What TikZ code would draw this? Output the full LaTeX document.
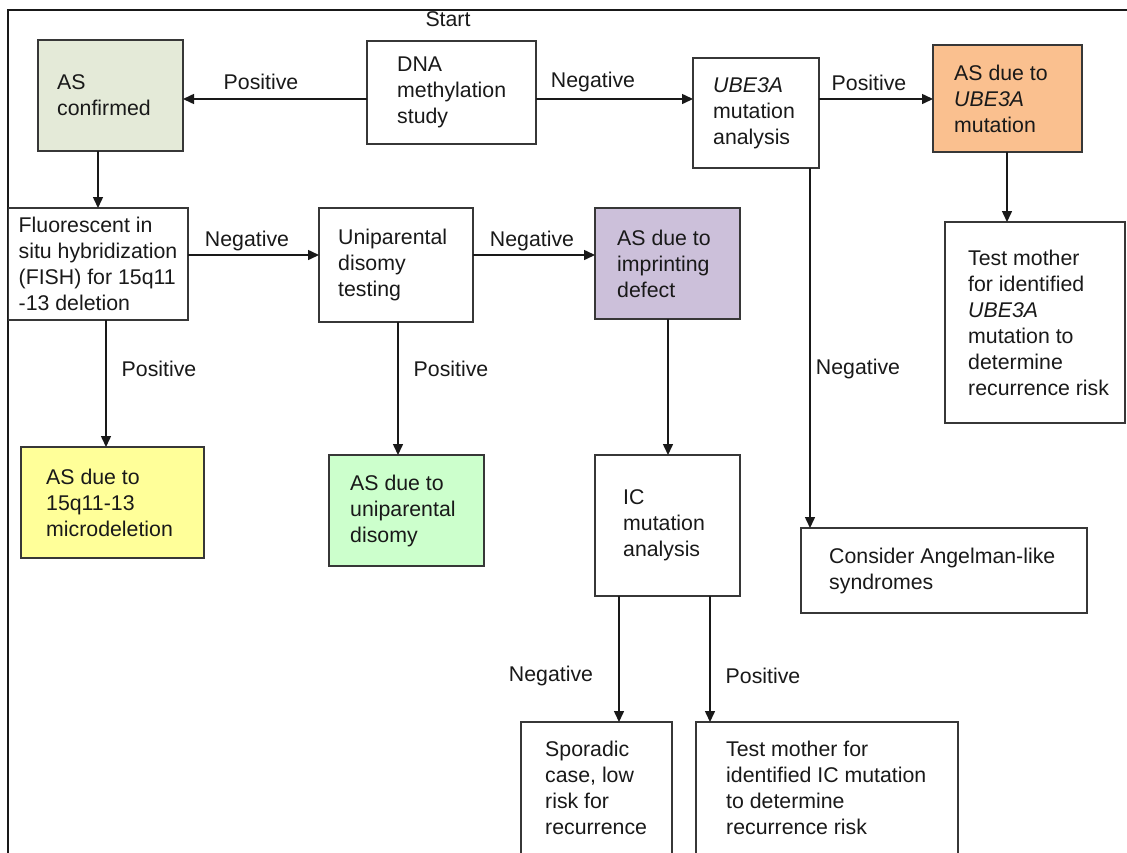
\documentclass[tikz,border=0pt]{standalone}
\usepackage{fontspec}
\setmainfont{Liberation Sans}
\usetikzlibrary{arrows.meta}
\definecolor{cconf}{RGB}{228,234,216}
\definecolor{corng}{RGB}{250,192,143}
\definecolor{cpurp}{RGB}{204,192,218}
\definecolor{cyel}{RGB}{255,255,153}
\definecolor{cgrn}{RGB}{204,255,204}
\definecolor{cline}{RGB}{55,55,55}
\definecolor{ctext}{RGB}{25,25,25}
% name, left, top, right, bottom, text padding, fill, text
\newcommand\flowbox[8]{%
  \node[boxst, fill=#7, minimum width={(#4-#2)*1pt}, minimum height={(#5-#3)*1pt}] (#1) at ({(#2+#4)/2},{(#3+#5)/2}) {};
  \node[txt, anchor=west] (#1t) at ([xshift=#6pt]#1.west) {#8};
}
\begin{document}
\begin{tikzpicture}[x=1pt,y=-1pt,
  boxst/.style={draw=cline, line width=1.5pt, inner sep=0pt, outer sep=0pt},
  txt/.style={inner sep=0pt, align=left, font=\fontsize{21.3}{26}\selectfont, text=ctext},
  lbl/.style={inner sep=0pt, font=\fontsize{21.3}{26}\selectfont, text=ctext},
  arr/.style={draw=ctext, line width=1.5pt, -{Triangle[length=11pt,width=10pt]}},
  frm/.style={draw=ctext, line width=1.5pt}]
\useasboundingbox (0,0) rectangle (1127,852);
\clip (0,0) rectangle (1127,852);
\fill[white] (0,0) rectangle (1127,852);
\draw[frm] (8,860) -- (8,10) -- (1130,10);

\flowbox{conf}{38}{40}{183}{151}{19}{cconf}{AS\\confirmed}
\flowbox{dna}{367}{41}{536}{144}{30}{white}{DNA\\methylation\\study}
\flowbox{ube}{693}{58}{819}{168}{20}{white}{\textit{UBE3A}\\mutation\\analysis}
\flowbox{orng}{933}{45}{1082}{152}{21}{corng}{AS due to\\\textit{UBE3A}\\mutation}
\flowbox{fish}{8.5}{208}{188}{320}{10}{white}{Fluorescent in\\situ hybridization\\(FISH) for 15q11\\-13 deletion}
\flowbox{upd}{319}{208}{473}{322}{19}{white}{Uniparental\\disomy\\testing}
\flowbox{imp}{595}{208}{740}{319}{22}{cpurp}{AS due to\\imprinting\\defect}
\flowbox{testU}{945}{222}{1125}{423}{23}{white}{Test mother\\for identified\\\textit{UBE3A}\\mutation to\\determine\\recurrence risk}
\flowbox{yel}{21}{447}{204}{558}{25}{cyel}{AS due to\\15q11-13\\microdeletion}
\flowbox{grn}{329}{455}{484}{566}{21}{cgrn}{AS due to\\uniparental\\disomy}
\flowbox{ic}{595}{455}{740}{596}{28}{white}{IC\\mutation\\analysis}
\flowbox{cons}{801}{528}{1087}{613}{28}{white}{Consider Angelman-like\\syndromes}
\flowbox{spor}{521}{722}{672}{854}{24}{white}{Sporadic\\case, low\\risk for\\recurrence}
\flowbox{testIC}{696}{722}{958}{854}{30}{white}{Test mother for\\identified IC mutation\\to determine\\recurrence risk}

% connectors
\draw[arr] (dna.west |- 0,99) -- (conf.east |- 0,99);
\draw[arr] (dna.east |- 0,99) -- (ube.west |- 0,99);
\draw[arr] (ube.east |- 0,99) -- (orng.west |- 0,99);
\draw[arr] (conf.south -| 98,0) -- (fish.north -| 98,0);
\draw[arr] (fish.south -| 106,0) -- (yel.north -| 106,0);
\draw[arr] (fish.east |- 0,255) -- (upd.west |- 0,255);
\draw[arr] (upd.east |- 0,255) -- (imp.west |- 0,255);
\draw[arr] (upd.south -| 398,0) -- (grn.north -| 398,0);
\draw[arr] (imp.south -| 668,0) -- (ic.north -| 668,0);
\draw[arr] (ube.south -| 810,0) -- (cons.north -| 810,0);
\draw[arr] (orng.south -| 1007,0) -- (testU.north -| 1007,0);
\draw[arr] (ic.south -| 619,0) -- (spor.north -| 619,0);
\draw[arr] (ic.south -| 710,0) -- (testIC.north -| 710,0);

% labels
\node[lbl] (start) at (448,19) {Start};
\node[lbl] (l1) at (261,82) {Positive};
\node[lbl] (l2) at (593,82) {Negative};
\node[lbl] (l3) at (869,83) {Positive};
\node[lbl] (l4) at (247,241) {Negative};
\node[lbl] (l5) at (532,241) {Negative};
\node[lbl] (l6) at (159,369) {Positive};
\node[lbl] (l7) at (451,369) {Positive};
\node[lbl] (l8) at (858,369) {Negative};
\node[lbl] (l9) at (551,676) {Negative};
\node[lbl] (l10) at (763,676) {Positive};
\end{tikzpicture}
\end{document}
